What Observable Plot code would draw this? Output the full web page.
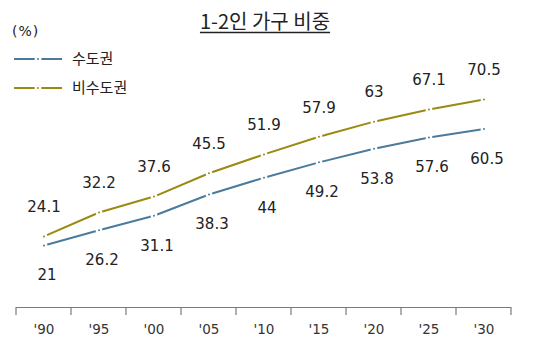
<!DOCTYPE html>
<html><head><meta charset="utf-8">
<script src="https://cdn.jsdelivr.net/npm/d3@7"></script>
<script src="https://cdn.jsdelivr.net/npm/@observablehq/plot@0.6"></script>
<style>body{margin:0;background:#fff} svg{display:block}</style>
</head><body><div id="chart"></div>
<script>
const years = ["'90","'95","'00","'05","'10","'15","'20","'25","'30"];
const capital = [21, 26.2, 31.1, 38.3, 44, 49.2, 53.8, 57.6, 60.5];
const nonCapital = [24.1, 32.2, 37.6, 45.5, 51.9, 57.9, 63, 67.1, 70.5];
const seriesNames = ["수도권", "비수도권"];
const colors = ["#4b7b9c", "#9a8a10"];
const title = "1-2인 가구 비중";
const unit = "(%)";

const capData = years.map((y, i) => ({year: y, value: capital[i], series: seriesNames[0]}));
const nonData = years.map((y, i) => ({year: y, value: nonCapital[i], series: seriesNames[1]}));
const data = capData.concat(nonData);

const font = "'DejaVu Sans', 'Noto Sans CJK KR', sans-serif";
const krFont = "'Noto Sans CJK KR', 'DejaVu Sans', sans-serif";
const plot = Plot.plot({
  width: 533, height: 355,
  marginLeft: 16, marginRight: 22, marginTop: 71, marginBottom: 48,
  style: {fontFamily: font, fontSize: "13px", color: "#333", background: "#fff"},
  x: {type: "band", domain: years, padding: 0, label: null},
  y: {domain: [0, 80], axis: null},
  color: {domain: seriesNames, range: colors},
  marks: [
    Plot.axisX({tickSize: 0, tickPadding: 17, label: null, fontSize: 13.5, fill: "#333"}),
    Plot.ruleY([0], {stroke: "#7a7a7a", strokeWidth: 1.2}),
    Plot.line(data, {x: "year", y: "value", z: "series", stroke: "series", strokeWidth: 2}),
    Plot.dot(data, {x: "year", y: "value", fill: "series", r: 2.2, stroke: "white", strokeWidth: 2.4}),
    Plot.text(capData, {x: "year", y: "value", text: d => String(d.value), dy: 30, dx: 3, fontSize: 15, fill: "#222"}),
    Plot.text(nonData, {x: "year", y: "value", text: d => String(d.value), dy: -29, fontSize: 15, fill: "#222"})
  ]
});
document.getElementById("chart").appendChild(plot);

const svg = d3.select(plot);
// boundary ticks under the axis, from the band scale
const xs = plot.scale("x");
const bounds = years.map(y => xs.apply(y));
bounds.push(xs.apply(years[years.length - 1]) + xs.bandwidth);
const y0 = plot.scale("y").apply(0);
svg.append("g").selectAll("line").data(bounds).join("line")
  .attr("x1", d => d).attr("x2", d => d)
  .attr("y1", y0).attr("y2", y0 + 8)
  .attr("stroke", "#7a7a7a").attr("stroke-width", 1.2);

// title
const t = svg.append("text").attr("x", 265).attr("y", 29)
  .attr("text-anchor", "middle").attr("font-size", 20).attr("fill", "#222")
  .attr("font-family", krFont).text(title);
const bb = t.node().getBBox();
svg.append("line").attr("x1", bb.x).attr("x2", bb.x + bb.width)
  .attr("y1", 32.5).attr("y2", 32.5).attr("stroke", "#222").attr("stroke-width", 1.3);

// unit
svg.append("text").attr("x", 12).attr("y", 36).attr("text-anchor", "start")
  .attr("font-size", 14).attr("letter-spacing", 1).attr("fill", "#222")
  .attr("font-family", font).text(unit);

// legend
const lg = svg.append("g");
seriesNames.forEach((name, i) => {
  const yy = 59 + i * 29;
  lg.append("line").attr("x1", 14).attr("x2", 62).attr("y1", yy).attr("y2", yy)
    .attr("stroke", colors[i]).attr("stroke-width", 2);
  lg.append("circle").attr("cx", 38).attr("cy", yy).attr("r", 2.2)
    .attr("fill", colors[i]).attr("stroke", "white").attr("stroke-width", 2.4);
  lg.append("text").attr("x", 72).attr("y", yy).attr("dy", "0.36em").attr("text-anchor", "start")
    .attr("font-size", 15).attr("fill", "#222").attr("font-family", krFont).text(name);
});
</script>
</body></html>
